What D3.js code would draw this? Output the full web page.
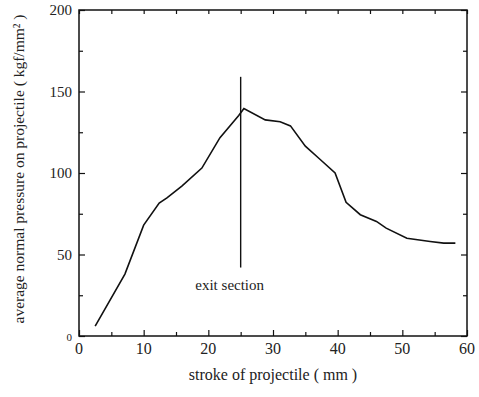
<!DOCTYPE html>
<html>
<head>
<meta charset="utf-8">
<script src="https://cdn.jsdelivr.net/npm/d3@7"></script>
<style>
  body { margin: 0; background: #fff; }
  text { font-family: "Liberation Serif", "DejaVu Serif", serif; fill: #222; }
</style>
</head>
<body>
<svg id="chart"></svg>
<script>
// Chart dimensions
const width = 479;
const height = 397;
const margin = { top: 10, right: 12, bottom: 61, left: 79 };

// Data
const stroke = [2.5, 7.1, 10.0, 12.4, 13.6, 15.9, 19.0, 21.8, 24.7, 25.5, 28.8, 31.1, 32.7, 35.0, 37.3, 39.6, 41.3, 43.5, 46.0, 47.5, 50.7, 54.3, 56.4, 58.2];
const pressure = [6, 38, 68, 81.5, 84.7, 92, 103, 121.7, 135.3, 139.6, 132.6, 131.4, 128.9, 116.5, 108.3, 100, 82, 74.4, 70.3, 66.2, 60, 58, 57, 57];
const xTicks = [0, 10, 20, 30, 40, 50, 60];
const yTicks = [0, 50, 100, 150, 200];
const exitX = 25;
const exitRange = [42, 159];

const svg = d3.select("#chart")
  .attr("width", width)
  .attr("height", height);

const x = d3.scaleLinear().domain([0, 60]).range([margin.left, width - margin.right]);
const y = d3.scaleLinear().domain([0, 200]).range([height - margin.bottom, margin.top]);

// Frame
svg.append("rect")
  .attr("x", x(0))
  .attr("y", y(200))
  .attr("width", x(60) - x(0))
  .attr("height", y(0) - y(200))
  .attr("fill", "none")
  .attr("stroke", "#111")
  .attr("stroke-width", 1.5);

// Axes with inward ticks
const axisBottomG = svg.append("g")
  .attr("transform", `translate(0,${y(0)})`)
  .call(d3.axisBottom(x).tickValues(d3.range(0, 61, 5)).tickSizeInner(-4).tickSizeOuter(0).tickFormat(""));
const axisTopG = svg.append("g")
  .attr("transform", `translate(0,${y(200)})`)
  .call(d3.axisTop(x).tickValues(d3.range(0, 61, 5)).tickSizeInner(-4).tickSizeOuter(0).tickFormat(""));
const axisLeftG = svg.append("g")
  .attr("transform", `translate(${x(0)},0)`)
  .call(d3.axisLeft(y).tickValues(d3.range(0, 201, 25)).tickSizeInner(-4).tickSizeOuter(0).tickFormat(""));
const axisRightG = svg.append("g")
  .attr("transform", `translate(${x(60)},0)`)
  .call(d3.axisRight(y).tickValues(d3.range(0, 201, 25)).tickSizeInner(-4).tickSizeOuter(0).tickFormat(""));

[axisBottomG, axisTopG, axisLeftG, axisRightG].forEach(g => {
  g.select(".domain").remove();
  g.selectAll("line").attr("stroke", "#111").attr("stroke-width", 1.2);
});
axisLeftG.selectAll(".tick line").filter(d => d % 50 === 0).attr("x2", 6);
axisRightG.selectAll(".tick line").filter(d => d % 50 === 0).attr("x2", -6);
axisBottomG.selectAll(".tick line").filter(d => d % 10 === 0).attr("y2", -6);

// Tick labels
svg.selectAll(".xlabel")
  .data(xTicks)
  .enter()
  .append("text")
  .attr("class", "xlabel")
  .attr("x", d => x(d))
  .attr("y", y(0) + 18)
  .attr("text-anchor", "middle")
  .attr("font-family", "Liberation Serif")
  .attr("font-size", 16)
  .text(d => d);

svg.selectAll(".ylabel")
  .data(yTicks)
  .enter()
  .append("text")
  .attr("class", "ylabel")
  .attr("x", x(0) - 7)
  .attr("y", d => y(d) + 5)
  .attr("text-anchor", "end")
  .attr("font-family", "Liberation Serif")
  .attr("font-size", d => d === 0 ? 11 : 15)
  .attr("fill", d => d === 200 || d === 0 ? "#888" : "#222")
  .text(d => d);

// Curve
const line = d3.line()
  .x((d, i) => x(stroke[i]))
  .y(d => y(d));

svg.append("path")
  .datum(pressure)
  .attr("d", line)
  .attr("fill", "none")
  .attr("stroke", "#111")
  .attr("stroke-width", 1.6);

// Exit section marker
svg.append("line")
  .attr("x1", x(exitX))
  .attr("x2", x(exitX))
  .attr("y1", y(exitRange[0]))
  .attr("y2", y(exitRange[1]))
  .attr("stroke", "#111")
  .attr("stroke-width", 1.4);

svg.append("text")
  .attr("x", x(exitX) - 11)
  .attr("y", y(exitRange[0]) + 22)
  .attr("text-anchor", "middle")
  .attr("font-family", "Liberation Serif")
  .attr("font-size", 15)
  .text("exit section");

// Axis titles
svg.append("text")
  .attr("x", (x(0) + x(60)) / 2)
  .attr("y", 380)
  .attr("text-anchor", "middle")
  .attr("font-family", "Liberation Serif")
  .attr("font-size", 16)
  .text("stroke of projectile ( mm )");

svg.append("text")
  .attr("transform", `translate(24,169) rotate(-90)`)
  .attr("text-anchor", "middle")
  .attr("font-family", "Liberation Serif")
  .attr("font-size", 15.5)
  .text("average normal pressure on projectile ( kgf/mm² )");
</script>
</body>
</html>
